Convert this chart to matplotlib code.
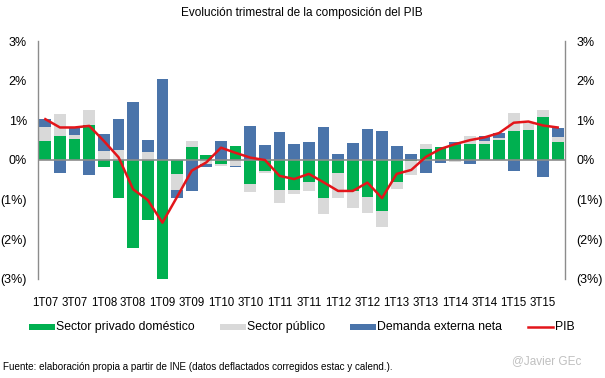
import numpy as np
import matplotlib
matplotlib.use("Agg")
import matplotlib.pyplot as plt
from matplotlib.patches import Rectangle
from matplotlib.lines import Line2D

plt.rcParams["font.family"] = ["Liberation Sans", "DejaVu Sans"]
NARROW = ["Liberation Sans Narrow", "Liberation Sans"]

# Quarters 1T07 .. 4T15
quarters = [f"{q}T{y:02d}" for y in range(7, 16) for q in range(1, 5)]

# Contributions to quarterly GDP growth (p.p.)
privado = [0.49, 0.61, 0.53, 0.88, -0.17, -0.97, -2.21, -1.52, -3.50, -0.35,
           0.33, 0.13, -0.09, 0.35, -0.61, -0.27, -0.76, -0.76, -0.55, -0.97,
           -0.32, -0.77, -0.93, -1.28, -0.56, -0.02, 0.28, 0.34, 0.38, 0.40,
           0.40, 0.50, 0.72, 0.76, 1.09, 0.45]
publico = [0.33, 0.56, 0.11, 0.38, 0.23, 0.25, 0.00, 0.21, -0.13, -0.41,
           0.16, -0.09, -0.05, -0.15, -0.19, -0.07, -0.32, -0.10, -0.22, -0.39,
           -0.63, -0.43, -0.40, -0.41, -0.16, -0.37, 0.12, 0.00, -0.06, 0.20,
           0.08, 0.06, 0.47, 0.18, 0.17, 0.13]
externa = [0.21, -0.32, 0.18, -0.37, 0.43, 0.78, 1.46, 0.29, 2.05, -0.19,
           -0.77, -0.08, 0.48, -0.03, 0.86, 0.38, 0.71, 0.40, 0.45, 0.83,
           0.15, 0.43, 0.78, 0.73, 0.35, 0.15, -0.32, -0.07, 0.08, -0.09,
           0.12, 0.11, -0.27, 0.00, -0.42, 0.23]
pib = [1.03, 0.82, 0.82, 0.86, 0.48, 0.07, -0.74, -1.01, -1.58, -0.93,
       -0.27, -0.06, 0.31, 0.18, 0.06, 0.00, -0.40, -0.48, -0.35, -0.56,
       -0.78, -0.78, -0.57, -0.96, -0.35, -0.25, 0.08, 0.28, 0.40, 0.50,
       0.57, 0.68, 0.94, 0.97, 0.87, 0.82]

GREEN = "#00B050"
GRAY = "#D9D9D9"
BLUE = "#4A74AA"
RED = "#E3151A"
AXIS = "#8C8C8C"

W, H = 605, 378
fig = plt.figure(figsize=(W / 100, H / 100), dpi=100)
ax = fig.add_axes([38 / W, 1 - 279 / H, (565 - 38) / W, (279 - 41) / H])

x = np.arange(len(quarters))
pos = np.zeros(len(x))
neg = np.zeros(len(x))
# Excel-style stacking: positives up, negatives down, in series order
for vals, color in ((privado, GREEN), (publico, GRAY), (externa, BLUE)):
    v = np.asarray(vals)
    bottom = np.where(v >= 0, pos, neg)
    ax.bar(x, v, bottom=bottom, width=0.8, color=color, linewidth=0, zorder=2)
    pos = pos + np.clip(v, 0, None)
    neg = neg + np.clip(v, None, 0)

ax.plot(x, pib, color=RED, linewidth=1.8, zorder=4)
ax.axhline(0, color=AXIS, linewidth=1.2, zorder=3)

ax.set_xlim(-0.5, len(x) - 0.5)
ax.set_ylim(-3, 3)

ax.set_yticks([3, 2, 1, 0, -1, -2, -3])
ax.set_yticklabels(["3%", "2%", "1%", "0%", "(1%)", "(2%)", "(3%)"],
                   family=NARROW, fontsize=9)
ax.tick_params(axis="y", length=0, pad=8, labelright=True, right=False)

ax.set_xticks(x[::2])
ax.set_xticklabels(quarters[::2], family=NARROW, fontsize=8.3)
ax.tick_params(axis="x", length=0, pad=13)

for s in ("top", "bottom"):
    ax.spines[s].set_visible(False)
for s in ("left", "right"):
    ax.spines[s].set_color(AXIS)
    ax.spines[s].set_linewidth(1.0)

fig.text(302 / W, 1 - 13 / H, "Evolución trimestral de la composición del PIB",
         ha="center", va="center", fontsize=8.5)

# legend, laid out like the Excel original
ly = 327
items = [("patch", GREEN, 29, "Sector privado doméstico"),
         ("patch", GRAY, 220, "Sector público"),
         ("patch", BLUE, 350, "Demanda externa neta"),
         ("line", RED, 528, "PIB")]
for kind, color, x0, label in items:
    if kind == "patch":
        fig.add_artist(Rectangle((x0 / W, 1 - (ly + 3) / H), 26 / W, 6 / H,
                                 transform=fig.transFigure, color=color,
                                 linewidth=0))
    else:
        fig.add_artist(Line2D([x0 / W, (x0 + 25) / W], [1 - ly / H] * 2,
                              transform=fig.transFigure, color=color,
                              linewidth=1.8))
    fig.text((x0 + 27) / W, 1 - ly / H, label, ha="left", va="center",
             fontsize=8.8)

fig.text(3 / W, 1 - 367 / H,
         "Fuente: elaboración propia a partir de INE (datos deflactados corregidos estac y calend.).",
         ha="left", va="center", fontsize=7.1)
fig.text(547 / W, 1 - 361 / H, "@Javier GEc", ha="center", va="center",
         fontsize=8.5, color="#C0C0C0")

fig.savefig("out.png", dpi=100)
